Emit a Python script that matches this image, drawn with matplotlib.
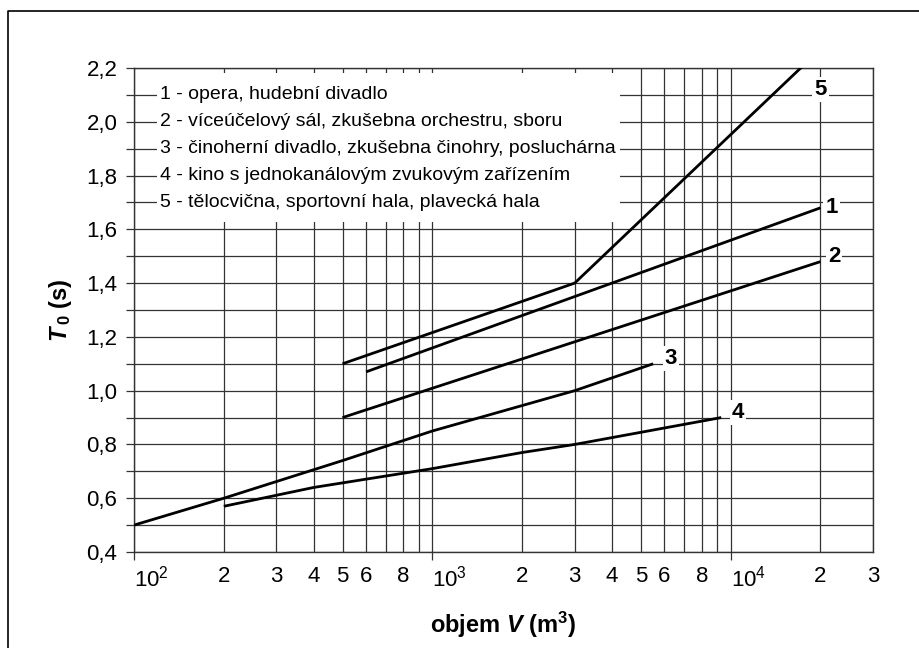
import matplotlib
matplotlib.use("Agg")
import matplotlib.pyplot as plt
from matplotlib.patches import Rectangle
from matplotlib.lines import Line2D
from matplotlib.ticker import FixedLocator, FixedFormatter, NullFormatter

plt.rcParams['font.family'] = ['Liberation Sans', 'DejaVu Sans']
plt.rcParams['mathtext.fontset'] = 'custom'
plt.rcParams['mathtext.rm'] = 'Liberation Sans'
plt.rcParams['mathtext.it'] = 'Liberation Sans:italic'
plt.rcParams['mathtext.bf'] = 'Liberation Sans:bold'
plt.rcParams['mathtext.bfit'] = 'Liberation Sans:italic:bold'

# Doporučená doba dozvuku T0 v závislosti na objemu prostoru V
curve_names = ['1', '2', '3', '4', '5']
V1 = [600, 20000]
T1 = [1.07, 1.68]
V2 = [500, 20000]
T2 = [0.90, 1.48]
V3 = [100, 200, 500, 1000, 3000, 5500]
T3 = [0.50, 0.60, 0.74, 0.85, 1.00, 1.10]
V4 = [200, 400, 1000, 2000, 3000, 9300]
T4 = [0.57, 0.64, 0.71, 0.77, 0.80, 0.90]
V5 = [500, 3000, 20000]
T5 = [1.10, 1.40, 2.27]

legend_texts = [
    '1 - opera, hudební divadlo',
    '2 - víceúčelový sál, zkušebna orchestru, sboru',
    '3 - činoherní divadlo, zkušebna činohry, posluchárna',
    '4 - kino s jednokanálovým zvukovým zařízením',
    '5 - tělocvična, sportovní hala, plavecká hala',
]

x_major = [1e2, 1e3, 1e4]
x_major_labels = ['$10^2$', '$10^3$', '$10^4$']
x_minor = [m * d for d in (1e2, 1e3, 1e4) for m in range(2, 10) if m * d <= 3e4]
x_minor_labels = ['' if str(int(v))[0] in '79' else str(int(v))[0] for v in x_minor]

y_major = [0.4, 0.6, 0.8, 1.0, 1.2, 1.4, 1.6, 1.8, 2.0, 2.2]
y_minor = [0.5, 0.7, 0.9, 1.1, 1.3, 1.5, 1.7, 1.9, 2.1]

fig = plt.figure(figsize=(9.2, 6.48), dpi=100)
ax = fig.add_axes([134 / 920, 1 - 552 / 648, (873 - 134) / 920, (552 - 68) / 648])

ax.set_xscale('log')
ax.set_xlim(1e2, 3e4)
ax.set_ylim(0.4, 2.2)

grid_color = '#333333'
ax.xaxis.set_major_locator(FixedLocator(x_major))
ax.xaxis.set_major_formatter(FixedFormatter(x_major_labels))
ax.xaxis.set_minor_locator(FixedLocator(x_minor))
ax.xaxis.set_minor_formatter(FixedFormatter(x_minor_labels))
ax.yaxis.set_major_locator(FixedLocator(y_major))
ax.yaxis.set_major_formatter(FixedFormatter([f'{v:.1f}'.replace('.', ',') for v in y_major]))
ax.yaxis.set_minor_locator(FixedLocator(y_minor))
ax.yaxis.set_minor_formatter(NullFormatter())

ax.tick_params(axis='x', which='major', direction='out', length=6, width=0.9, color=grid_color,
               labelsize=16, pad=4)
ax.tick_params(axis='x', which='minor', length=0, labelsize=16, pad=10)
ax.tick_params(axis='y', which='both', direction='out', length=6, width=0.9, color=grid_color,
               labelsize=16, pad=6)
for lab in ax.xaxis.get_majorticklabels():
    lab.set_horizontalalignment('left')

ax.set_axisbelow(True)
ax.grid(True, which='both', axis='both', color=grid_color, linewidth=0.9)
for s in ax.spines.values():
    s.set_color(grid_color)
    s.set_linewidth(1.0)

# white panel behind the explanatory text
ax.add_patch(Rectangle((0.031, 0.682), 0.627, 0.308, transform=ax.transAxes,
                       facecolor='white', edgecolor='none', zorder=1))

for V, T in [(V1, T1), (V2, T2), (V3, T3), (V4, T4), (V5, T5)]:
    ax.plot(V, T, color='black', linewidth=2.0, zorder=3, solid_capstyle='butt')

label_pos = [(21800, 1.68), (22200, 1.50), (6300, 1.12), (10600, 0.92), (20000, 2.12)]
for name, (xv, yv) in zip(curve_names, label_pos):
    ax.text(xv, yv, name, fontsize=16, fontweight='bold', ha='center', va='center', zorder=4,
            bbox=dict(facecolor='white', edgecolor='none', pad=1.5))

for i, txt in enumerate(legend_texts):
    ax.text(0.035, 2.1 - 0.1 * i, txt, transform=ax.get_yaxis_transform(), fontsize=14,
            ha='left', va='center', zorder=4)

ax.set_xlabel(r'objem $\mathbfit{V}$ $\mathbf{(m^3)}$', fontsize=17, fontweight='bold', labelpad=13)
ax.set_ylabel(r'$\mathbfit{T}\,_{\mathbf{0}}\;\mathbf{(s)}$', fontsize=17, labelpad=9)

# outer frame
fig.add_artist(Line2D([8 / 920, 8 / 920, 1.0], [0.0, 1 - 11 / 648, 1 - 11 / 648],
                      transform=fig.transFigure, color='black', linewidth=1.2))

fig.savefig('out.png', dpi=100, facecolor='white')
